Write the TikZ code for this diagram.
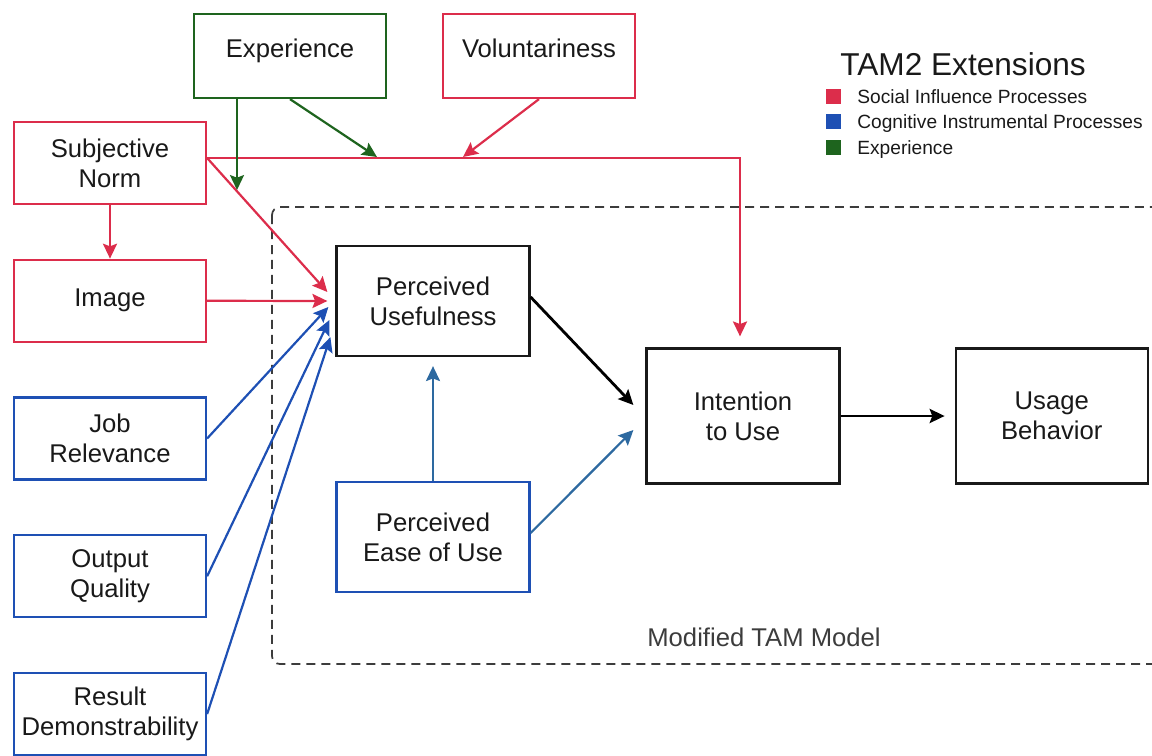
\documentclass[tikz,border=0pt]{standalone}
\usepackage{fontspec}
\setmainfont{Liberation Sans}
\usetikzlibrary{arrows.meta, positioning}
\definecolor{redcol}{RGB}{220, 45, 75}
\definecolor{bluecol}{RGB}{30, 80, 180}
\definecolor{steelcol}{RGB}{45, 105, 160}
\definecolor{greencol}{RGB}{30, 100, 30}
\definecolor{inkcol}{RGB}{25, 25, 25}
\definecolor{framecol}{RGB}{60, 60, 60}

\begin{document}
\begin{tikzpicture}[
    x=0.02cm, y=-0.02cm,
    node distance=1.07cm,
    box/.style={rectangle, draw=inkcol, line width=1.3pt, minimum width=3.84cm,
                minimum height=1.64cm, inner xsep=2pt, align=center, text=inkcol,
                font=\fontsize{14.6}{17.2}\selectfont},
    rbox/.style={box, draw=redcol},
    bbox/.style={box, draw=bluecol},
    gbox/.style={box, draw=greencol},
    arr/.style={line width=1.25pt, -{Stealth[length=8.5pt, width=8pt, inset=1.5pt]}},
    rarr/.style={arr, draw=redcol},
    barr/.style={arr, draw=bluecol},
    sarr/.style={arr, draw=steelcol},
    garr/.style={arr, draw=greencol},
    karr/.style={arr, draw=black, line width=1.6pt},
    frame/.style={draw=framecol, line width=1pt, dash pattern=on 0.18cm off 0.12cm,
                  rounded corners=0.16cm},
    txt/.style={inner sep=0pt, text=inkcol}
  ]
  \useasboundingbox (0,0) rectangle (1152,755);

  % Modified TAM frame
  \draw[frame] (272,207) rectangle (1175,664);
  \node[txt, anchor=west, text=framecol, font=\fontsize{14.6}{17}\selectfont] (tamlbl)
        at (647,637) {Modified TAM Model};

  % Nodes
  \node[gbox, minimum height=1.68cm, text depth=9pt] (exp) at (290,56) {Experience};
  \node[rbox, minimum height=1.68cm, text depth=9pt] (vol) at (539,56) {Voluntariness};
  \node[rbox] (sn) at (110,163) {Subjective\\Norm};
  \node[rbox, below=of sn] (img) {Image};
  \node[bbox, below=of img] (job) {Job\\Relevance};
  \node[bbox, below=of job] (out) {Output\\Quality};
  \node[bbox, below=of out] (res) {Result\\Demonstrability};

  \node[box, minimum width=3.86cm, minimum height=2.2cm] (pu) at (433,301) {Perceived\\Usefulness};
  \node[bbox, minimum width=3.86cm, minimum height=2.2cm] (peou) at (433,537) {Perceived\\Ease of Use};
  \node[box, minimum width=3.86cm, minimum height=2.7cm] (iu) at (743,416) {Intention\\to Use};
  \node[box, minimum height=2.7cm, right=2.28cm of iu] (ub) {Usage\\Behavior};

  % Legend
  \node[txt, anchor=west, font=\fontsize{18}{20}\selectfont] (legtitle) at (840,64) {TAM2 Extensions};
  \foreach \c/\t [count=\i] in {redcol/Social Influence Processes,
                                bluecol/Cognitive Instrumental Processes,
                                greencol/Experience} {
    \node[fill=\c, minimum size=0.3cm, inner sep=0pt] (sq\i) at (833,70.5+25.5*\i) {};
    \node[txt, anchor=base west, font=\fontsize{10.9}{13}\selectfont] (leg\i)
          at (857,77.5+25.5*\i) {\t};
  }

  % Moderator targets
  \coordinate (expmod) at (237,190);
  \coordinate (exptop) at (377,157);
  \coordinate (voltop) at (463,157);

  % Social influence arrows
  \draw[rarr, shorten >=0.22cm] ([yshift=0.1cm]sn.east) -| ([xshift=-0.06cm]iu.north);
  \draw[rarr] ([yshift=0.1cm]sn.east) -- ([xshift=-0.16cm, yshift=0.18cm]pu.west);
  \draw[rarr] (sn.south) -- (img.north);
  \draw[rarr] (img.east) -- ([xshift=-0.16cm]pu.west);
  \draw[rarr] (vol.south) -- (voltop);

  % Experience arrows
  \draw[garr] (exp.south -| expmod) -- (expmod);
  \draw[garr] (exp.south) -- (exptop);

  % Cognitive instrumental arrows
  \draw[barr] (job.east) -- ([xshift=-0.14cm, yshift=-0.12cm]pu.west);
  \draw[barr] (out.east) -- ([xshift=-0.12cm, yshift=-0.38cm]pu.west);
  \draw[barr] (res.east) -- ([xshift=-0.1cm, yshift=-0.72cm]pu.west);

  % Core TAM arrows
  \draw[sarr, shorten >=0.18cm] (peou.north) -- (pu.south);
  \draw[sarr] ([yshift=0.08cm]peou.east) -- ([xshift=-0.24cm, yshift=-0.28cm]iu.west);
  \draw[karr] ([yshift=0.08cm]pu.east) -- ([xshift=-0.24cm, yshift=0.22cm]iu.west);
  \draw[karr, shorten >=0.2cm] (iu.east) -- (ub.west);
\end{tikzpicture}
\end{document}
